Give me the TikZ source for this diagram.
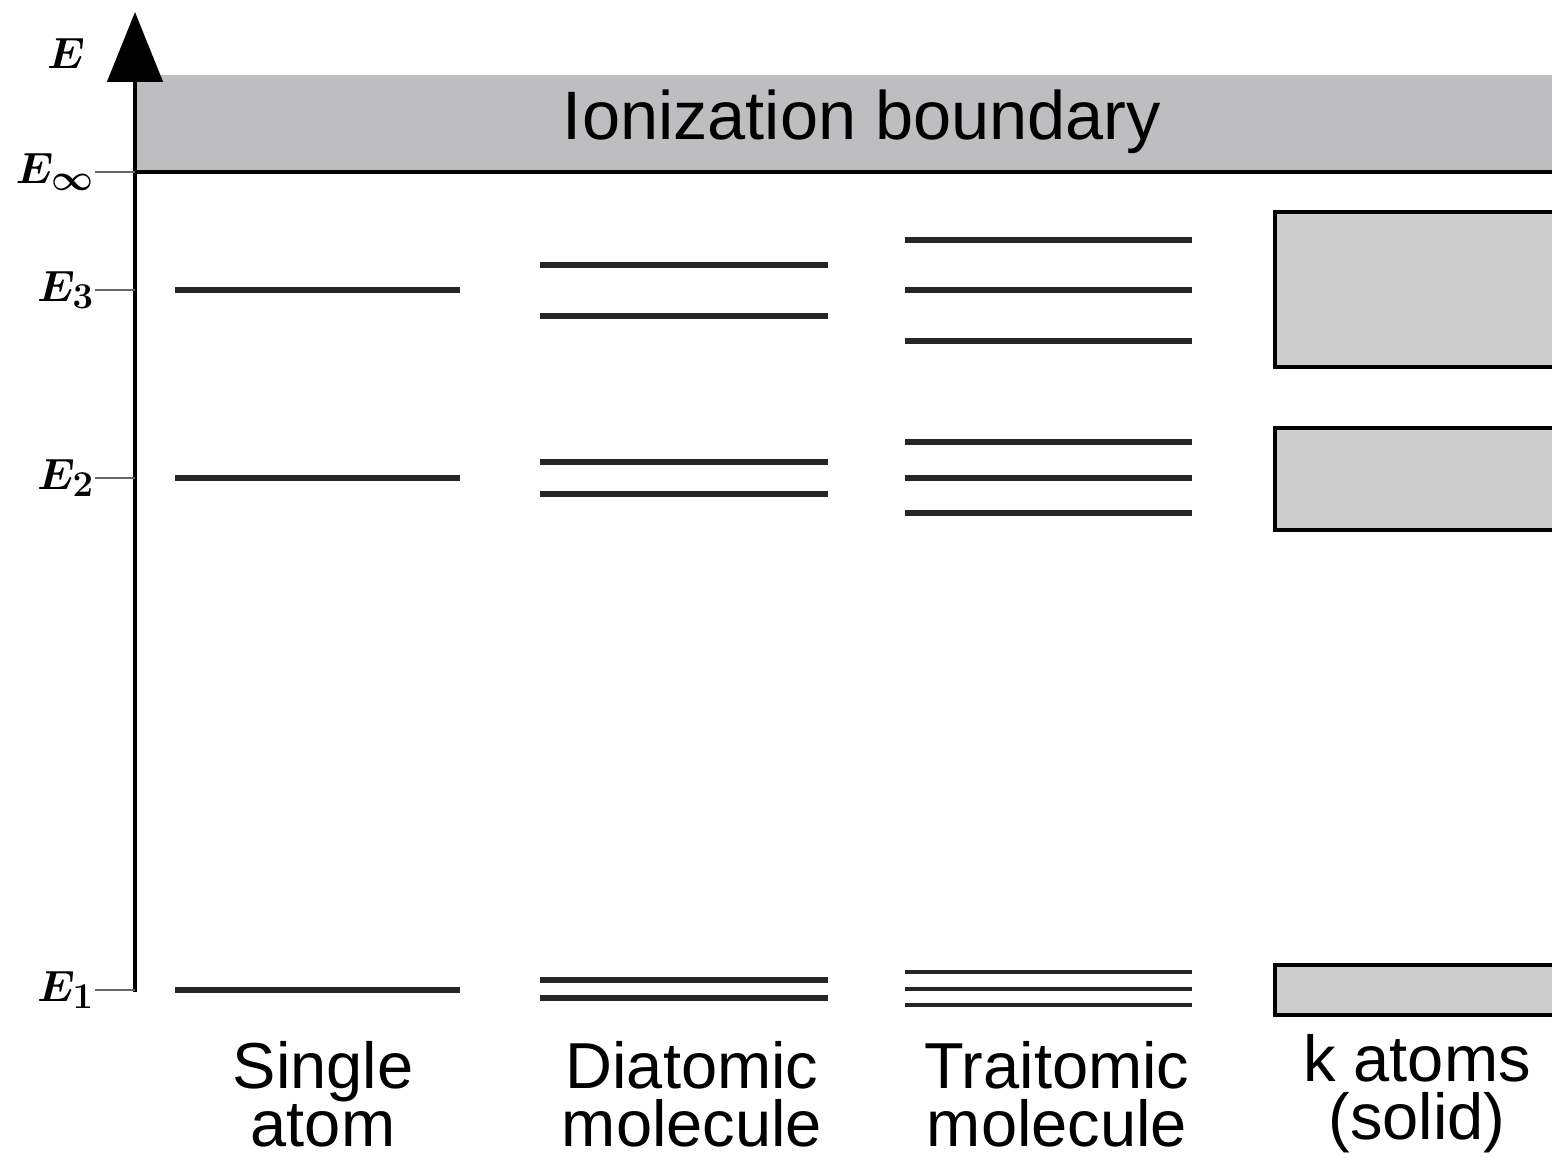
\documentclass[tikz,border=0pt]{standalone}
\usepackage{fontspec}
\setsansfont{Liberation Sans}
\usetikzlibrary{arrows.meta, positioning}
\definecolor{bandgray}{RGB}{190,190,193}
\definecolor{boxgray}{RGB}{205,205,205}
\tikzstyle{level}     = [line width=3.3pt, black!85]
\tikzstyle{band}      = [draw, line width=2.8pt, fill=boxgray]
\tikzstyle{tick}      = [line width=1pt, black!60]
\tikzstyle{elabel}    = [anchor=east, inner sep=1pt, font=\fontsize{42}{42}\selectfont\boldmath]
\tikzstyle{caption}   = [align=center, font=\sffamily\fontsize{37}{33}\selectfont]

\begin{document}
\begin{tikzpicture}[x=0.02cm, y=-0.02cm]
        \useasboundingbox (0,0) rectangle (1552,1158);

        % Ionisationsgrenze
        \fill[bandgray] (135,75) rectangle (1560,172);
        \node[caption, font=\sffamily\fontsize{39}{39}\selectfont] (ion) at (862,122) {Ionization boundary};
        \draw[line width=2.6pt] (135,172) -- (1560,172);

        % Energieachse
        \draw[line width=2.8pt, -{Triangle[width=1.1cm, length=1.4cm]}]
            (135,992) -- (135,12);
        \node[font=\fontsize{44}{44}\selectfont\boldmath] (E) at (66,54) {$E$};

        % Niveaus an der Achse
        \foreach \y/\name/\sub in {172/Einf/\infty, 290/E3/3, 478/E2/2, 990/E1/1} {
            \draw[tick] (95,\y) -- (135,\y);
            \node[elabel] (\name) at (96,\y) {$E_{\scriptscriptstyle\sub}$};
        }

        % Einzelnes Atom
        \foreach \y in {290, 478, 990}
            \draw[level] (175,\y) -- (460,\y);

        % Zweiatomiges Molekül
        \foreach \y in {265, 316, 462, 494, 980, 998}
            \draw[level] (540,\y) -- (828,\y);

        % Dreiatomiges Molekül
        \foreach \y in {240, 290, 341, 442, 478, 513}
            \draw[level] (905,\y) -- (1192,\y);
        \foreach \y in {972, 989, 1005}
            \draw[level, line width=2.6pt] (905,\y) -- (1192,\y);

        % Festkörper: Bänder
        \draw[band] (1275,212) rectangle (1570,367);
        \draw[band] (1275,428) rectangle (1570,530);
        \draw[band] (1275,965) rectangle (1570,1015);

        % Beschriftungen
        \node[caption] (single) at (323,1094) {Single\\atom};
        \node[caption] (diatomic) at (692,1094) {Diatomic\\molecule};
        \node[caption] (triatomic) at (1057,1094) {Traitomic\\molecule};
        \node[caption] (solid) at (1417,1094) {k atoms\\(solid)};

    \end{tikzpicture}
\end{document}
